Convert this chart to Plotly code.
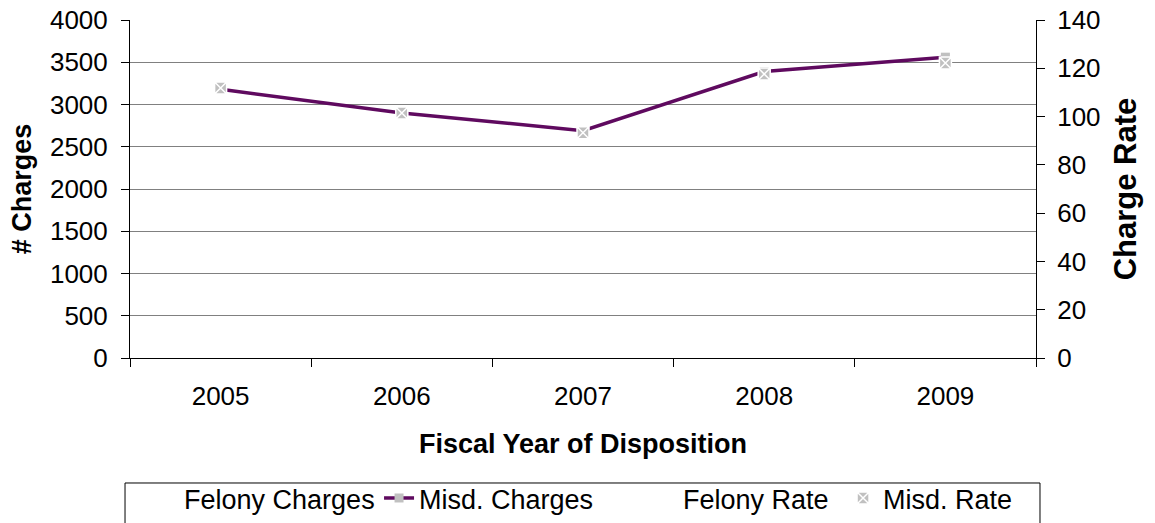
import plotly.graph_objects as go

years = ["2005", "2006", "2007", "2008", "2009"]
felony_charges = [None, None, None, None, None]
misd_charges = [3180, 2900, 2690, 3390, 3560]
felony_rate = [None, None, None, None, None]
misd_rate = [111.8, 101.5, 93.3, 117.6, 122.2]

left_ticks = [0, 500, 1000, 1500, 2000, 2500, 3000, 3500, 4000]
right_ticks = [0, 20, 40, 60, 80, 100, 120, 140]

FONT = "Liberation Sans, Arial, sans-serif"
PURPLE = "#5F0A5F"
GREY = "#C0C0C0"

fig = go.Figure()
fig.add_trace(go.Scatter(x=years, y=felony_charges, name="Felony Charges", mode="lines",
                         line=dict(color="white", width=2), yaxis="y", legendwidth=190))
fig.add_trace(go.Scatter(x=years, y=misd_charges, name="Misd. Charges", mode="lines+markers",
                         line=dict(color=PURPLE, width=3.5),
                         marker=dict(symbol="square", size=9, color=GREY, line=dict(width=0)),
                         yaxis="y", legendwidth=219))
fig.add_trace(go.Scatter(x=years, y=felony_rate, name="Felony Rate", mode="lines",
                         line=dict(color="white", width=2), yaxis="y2", legendwidth=155))
fig.add_trace(go.Scatter(x=years, y=misd_rate, name="Misd. Rate", mode="markers",
                         marker=dict(symbol="square-x", size=12, color=GREY,
                                     line=dict(color="white", width=1.5)),
                         yaxis="y2", legendwidth=140))

# legend frame (the reference legend box runs off the bottom edge)
fig.add_shape(type="rect", xref="paper", yref="paper", x0=-0.0055, x1=1.0044, y0=-0.3698, y1=-0.7,
              line=dict(color="black", width=1), fillcolor="rgba(0,0,0,0)", layer="above")

fig.update_layout(
    width=1155, height=523,
    margin=dict(l=130, r=119, t=20, b=165, autoexpand=False),
    paper_bgcolor="white", plot_bgcolor="white",
    font=dict(family=FONT, size=26, color="black"),
    showlegend=True,
    legend=dict(orientation="h", x=0.0155, xanchor="left", y=-0.343, yanchor="top",
                borderwidth=0, bgcolor="rgba(0,0,0,0)",
                font=dict(family=FONT, size=27, color="black"),
                traceorder="normal"),
    xaxis=dict(type="category", range=[-0.5, 4.5], showline=True, linecolor="black", linewidth=1,
               ticks="outside", tickson="boundaries", ticklen=8, tickcolor="black",
               showgrid=False, zeroline=False, ticklabelstandoff=15,
               title=dict(text="<b>Fiscal Year of Disposition</b>", standoff=23,
                          font=dict(family=FONT, size=27))),
    yaxis=dict(range=[0, 4000], tickvals=left_ticks, showgrid=True, gridcolor="#808080",
               gridwidth=1, showline=True, linecolor="black", linewidth=1, ticks="outside",
               ticklen=8, tickcolor="black", zeroline=False, ticklabelstandoff=8,
               ticklabeloverflow="allow",
               title=dict(text="<b># Charges</b>", standoff=10, font=dict(family=FONT, size=27))),
    yaxis2=dict(range=[0, 140], tickvals=right_ticks, overlaying="y", side="right", anchor="x",
                showgrid=False, showline=True, linecolor="black", linewidth=1, ticks="outside",
                ticklen=8, tickcolor="black", zeroline=False, ticklabelstandoff=7,
                ticklabeloverflow="allow",
                title=dict(text="<b>Charge Rate</b>", standoff=14, font=dict(family=FONT, size=31))),
    yaxis3=dict(range=[0, 140], tickvals=right_ticks, overlaying="y", side="right", anchor="x",
                showgrid=False, showline=False, ticks="inside", ticklen=8, tickcolor="black",
                showticklabels=False, zeroline=False),
)

fig.write_html("out.html", config={"displayModeBar": False},
               post_script="document.body.style.margin='0';")
